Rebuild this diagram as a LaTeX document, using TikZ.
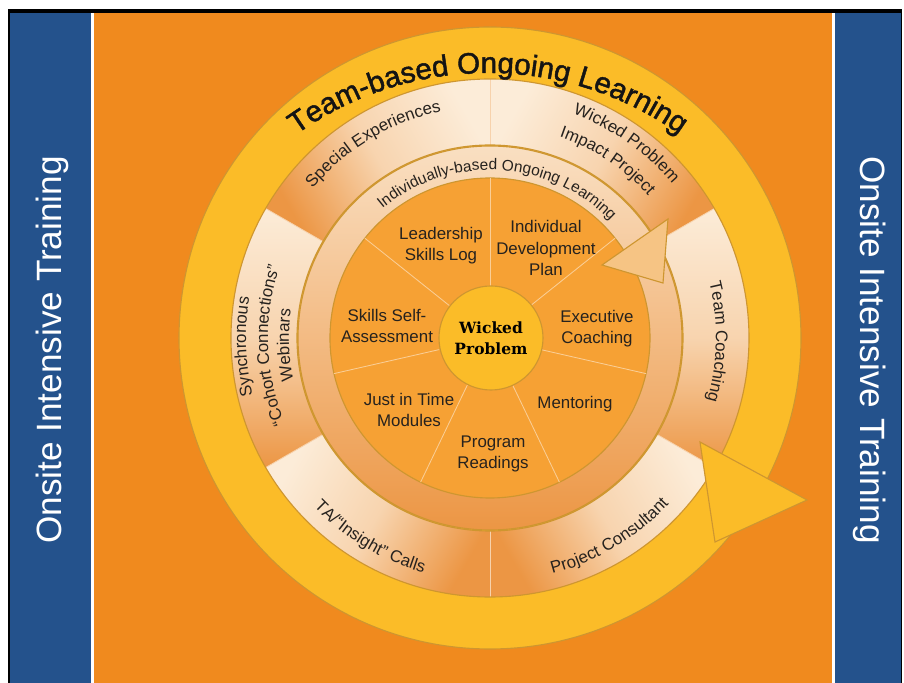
\documentclass[tikz,border=0pt]{standalone}
\usepackage{fontspec}
\setmainfont{Liberation Sans}
\newfontfamily\wickedfont{DejaVu Serif}
\usetikzlibrary{decorations.text}

\definecolor{panelblue}{RGB}{36,82,140}
\definecolor{bgorange}{RGB}{240,138,30}
\definecolor{ringyellow}{RGB}{251,188,40}
\definecolor{ringedge}{RGB}{206,150,48}
\definecolor{pieorange}{RGB}{246,161,52}
\definecolor{cream}{RGB}{252,236,216}
\definecolor{segorange}{RGB}{236,150,68}
\definecolor{peach}{RGB}{246,196,132}
\definecolor{ink}{RGB}{38,34,30}

\newcommand{\bandfont}{\fontsize{12}{14}\selectfont}
\newcommand{\ringfont}{\fontsize{11}{13}\selectfont}
\newcommand{\titlefont}{\fontsize{21}{25}\selectfont\addfontfeature{FakeBold=1.5}}

\tikzset{
  edge line/.style={draw=ringedge, line width=0.8pt},
  pie label/.style={font=\fontsize{12}{15}\selectfont, text=ink, align=center, inner sep=0pt},
  side label/.style={font=\fontsize{25}{30}\selectfont, text=white, inner sep=0pt},
  curved/.style={decorate, decoration={text along path, text align=center, text color=ink, text={#1}}},
}

\begin{document}
\begin{tikzpicture}[x=0.025cm, y=0.025cm]
\useasboundingbox (-490,-345) rectangle (414,338);
% frame and side panels
\fill[white] (-490,-345) rectangle (414,338);
\fill[black] (-482,-345) rectangle (412,329);
\fill[panelblue] (-480,-345) rectangle (-399,325);
\fill[white] (-399,-345) rectangle (-396,325);
\fill[bgorange] (-396,-345) rectangle (342,325);
\fill[white] (342,-345) rectangle (345,325);
\fill[panelblue] (345,-345) rectangle (411,325);
\node[side label, rotate=90] (leftpanel) at (-438,-12) {Onsite Intensive Training};
\node[side label, rotate=-90] (rightpanel) at (380,-12) {Onsite Intensive Training};

% team-based ring
\fill[ringyellow] (0,0) circle (311);
\draw[edge line] (0,0) circle (311);

% outer segments, light at the upper end
\foreach \a/\b/\s in {90/150/-60, 30/90/60, -30/30/0, -90/-30/-60, -150/-90/60, 150/210/0}
  \shade[top color=cream, bottom color=segorange, middle color=cream!72!segorange, shading angle=\s]
    (\a:193) arc[start angle=\a, end angle=\b, radius=193] -- (\b:259)
    arc[start angle=\b, end angle=\a, radius=259] -- cycle;
\foreach \a in {90,30,-30,-90,-150,150}
  \draw[cream!70!segorange, line width=0.6pt] (\a:193) -- (\a:259);
\draw[edge line] (0,0) circle (259);
\draw[edge line] (0,0) circle (193);
\filldraw[fill=ringyellow, edge line] (210,-104) -- (317,-162) -- (225,-204) -- cycle;

% individually-based ring
\shade[top color=cream!85!segorange, bottom color=segorange, even odd rule]
  (0,0) circle (192) (0,0) circle (160);
\draw[edge line] (0,0) circle (192);

% pie
\fill[pieorange] (0,0) circle (160);
\draw[edge line] (0,0) circle (160);
\foreach \a in {90,38.57,-12.86,-64.29,-115.71,-167.14,141.43}
  \draw[cream!60!pieorange, line width=0.6pt] (\a:52) -- (\a:160);
\filldraw[fill=peach, edge line] (112,73) -- (178,119) -- (173,55) -- cycle;

\node[circle, fill=ringyellow, edge line, minimum size=2.6cm, inner sep=0pt, align=center,
  font=\wickedfont\bfseries\fontsize{11}{15}\selectfont, text=black] (wicked) at (1,0) {Wicked\\Problem};

\node[pie label] (leadership) at (-49,92) {Leadership\\Skills Log};
\node[pie label] (idp) at (56,90) {Individual\\Development\\Plan};
\node[pie label] (executive) at (107,9) {Executive\\Coaching};
\node[pie label] (mentoring) at (85,-66) {Mentoring};
\node[pie label] (readings) at (3,-116) {Program\\Readings};
\node[pie label] (justintime) at (-81,-72) {Just in Time\\Modules};
\node[pie label] (selfassess) at (-103,12) {Skills Self-\\Assessment};

% curved labels
\path[curved={|\titlefont|Team-based Ongoing Learning}, decoration={text color=black!92}]
  ([shift={(-2,-64)}]125:329) arc[start angle=125, end angle=55, radius=329];
\path[curved={|\ringfont|Individually-based Ongoing Learning}]
  (147:168) arc[start angle=147, end angle=27, radius=168];
\path[curved={|\bandfont|Special Experiences}]
  (151:232) arc[start angle=151, end angle=91, radius=232];
\path[curved={|\bandfont|Wicked Problem}]
  (85:239) arc[start angle=85, end angle=25, radius=239];
\path[curved={|\bandfont|Impact Project}]
  (86.5:213) arc[start angle=86.5, end angle=26.5, radius=213];
\path[curved={|\bandfont|Team Coaching}]
  (29:226) arc[start angle=29, end angle=-31, radius=226];
\path[curved={|\bandfont|Project Consultant}]
  (-89:244) arc[start angle=-89, end angle=-29, radius=244];
\path[curved={|\bandfont|TA/“Insight” Calls}]
  (-151:244) arc[start angle=-151, end angle=-91, radius=244];
\path[curved={|\bandfont|Synchronous}]
  (212:244) arc[start angle=212, end angle=152, radius=244];
\path[curved={|\bandfont|“Cohort Connections”}]
  (212:222) arc[start angle=212, end angle=152, radius=222];
\path[curved={|\bandfont|Webinars}]
  (212:201) arc[start angle=212, end angle=152, radius=201];
\end{tikzpicture}
\end{document}
